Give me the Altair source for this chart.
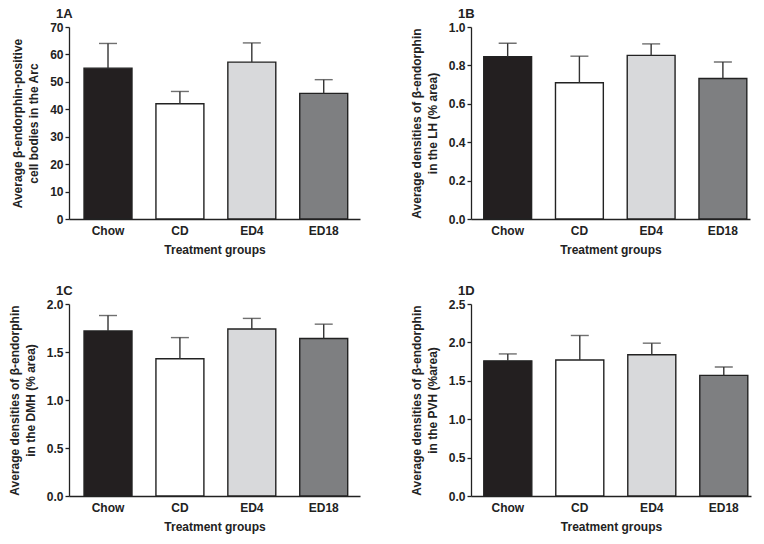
import altair as alt
import pandas as pd

groups = ["Chow", "CD", "ED4", "ED18"]
colors = ["#231f20", "#ffffff", "#d8d9db", "#7e7f81"]

mean_a = [55.0, 42.0, 57.2, 45.8]
top_a = [64.0, 46.5, 64.2, 50.8]
mean_b = [0.845, 0.71, 0.852, 0.732]
top_b = [0.915, 0.848, 0.912, 0.818]
mean_c = [1.72, 1.43, 1.74, 1.64]
top_c = [1.88, 1.65, 1.85, 1.79]
mean_d = [1.76, 1.77, 1.84, 1.57]
top_d = [1.85, 2.09, 1.99, 1.68]

FONT = "Liberation Sans"
INK = "#222222"


def panel(label, means, tops, ymax, ystep, fmt, ytitle, width, pad_outer, align):
    df = pd.DataFrame({"group": groups, "mean": means, "top": tops})
    ticks = [round(i * ystep, 4) for i in range(int(round(ymax / ystep)) + 1)]
    xscale = alt.Scale(paddingInner=0.333, paddingOuter=pad_outer, align=align)
    xaxis = alt.Axis(
        title="Treatment groups",
        labelAngle=0,
        ticks=False,
        tickSize=0,
        labelPadding=6,
        titlePadding=8,
    )
    yscale = alt.Scale(domain=[0, ymax], nice=False, zero=True)
    yaxis = alt.Axis(
        title=ytitle,
        values=ticks,
        format=fmt,
        tickSize=4,
        labelPadding=2,
        labelOverlap=False,
        titlePadding=9,
        titleLineHeight=16,
    )
    x = alt.X("group:N", sort=groups, scale=xscale, axis=xaxis)
    base = alt.Chart(df)
    bars = base.mark_bar(stroke=INK, strokeWidth=1.4).encode(
        x=x,
        y=alt.Y("mean:Q", scale=yscale, axis=yaxis),
        fill=alt.Fill("group:N", scale=alt.Scale(domain=groups, range=colors), legend=None),
    )
    rule = base.mark_rule(color="#333333", strokeWidth=1.4).encode(
        x=x,
        y=alt.Y("mean:Q", scale=yscale, axis=yaxis),
        y2="top:Q",
    )
    cap = base.mark_tick(color="#333333", thickness=1.4, size=18, orient="horizontal").encode(
        x=x,
        y=alt.Y("top:Q", scale=yscale, axis=yaxis),
    )
    return alt.layer(bars, rule, cap).properties(
        width=width,
        height=192,
        title=alt.TitleParams(
            label,
            anchor="start",
            frame="group",
            dx=-13,
            offset=0,
            font=FONT,
            fontSize=13,
            fontWeight="bold",
            color=INK,
        ),
    )


pa = panel("1A", mean_a, top_a, 70, 10, "d",
           ["Average \u03b2-endorphin-positive", "cell bodies in the  Arc"], 291, 0.19, 0.55)
pb = panel("1B", mean_b, top_b, 1.0, 0.2, ".1f",
           ["Average densities of  \u03b2-endorphin", "in the LH (% area)"], 279, 0.111, 0.8)
pc = panel("1C", mean_c, top_c, 2.0, 0.5, ".1f",
           ["Average densities of  \u03b2-endorphin", "in the DMH (% area)"], 291, 0.19, 0.55)
pd_ = panel("1D", mean_d, top_d, 2.5, 0.5, ".1f",
            ["Average densities of  \u03b2-endorphin", "in the PVH (%area)"], 280, 0.111, 0.8)

chart = (
    alt.concat(pa, pb, pc, pd_, columns=2, spacing={"row": 85, "column": 111}, bounds="flush")
    .properties(padding={"left": 0, "top": 0, "right": 4, "bottom": 6}, background="white")
    .configure_view(strokeWidth=0)
    .configure_axis(
        labelFont=FONT,
        labelFontSize=12,
        labelFontWeight="bold",
        labelColor=INK,
        labelOverlap=False,
        titleFont=FONT,
        titleFontSize=12,
        titleFontWeight="bold",
        titleColor=INK,
        domainColor=INK,
        domainWidth=1.3,
        tickColor=INK,
        tickWidth=1.3,
        grid=False,
    )
)

chart.save("out.html", embed_options={"renderer": "svg", "actions": False})
